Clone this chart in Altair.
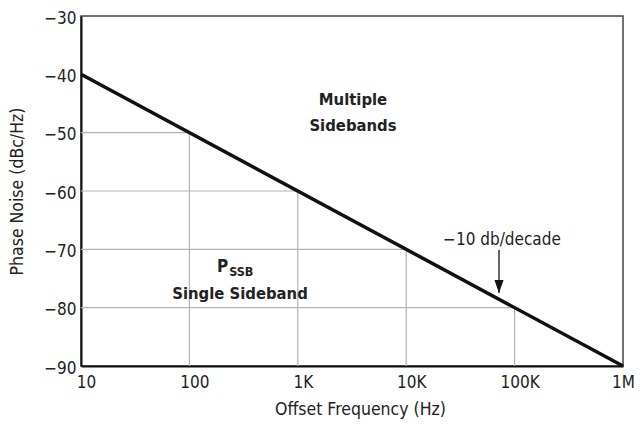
import altair as alt
import pandas as pd

FONT = "Liberation Sans Narrow, DejaVu Sans Condensed, Arial Narrow, sans-serif"

# Main -10 dB/decade line
line_freq = [10, 1000000]
line_noise = [-40, -90]

# Partial grid points on the line
grid_freq = [100, 1000, 10000, 100000]
grid_noise = [-50, -60, -70, -80]

x_ticks = [10, 100, 1000, 10000, 100000, 1000000]
y_ticks = [-90, -80, -70, -60, -50, -40, -30]
x_min, x_max = 10, 1000000
y_min, y_max = -90, -30

# Annotation anchors (data units)
bold_labels = ["Multiple", "Sidebands", "Single Sideband"]
bold_x = [3230, 3230, 293]
bold_y = [-44.4, -48.9, -77.7]

slope_label = ["\u221210 db/decade"]
slope_x = [76500]
slope_y = [-68.4]

arrow_x = [71800]
arrow_top = [-70.1]
arrow_tip = [-77.5]

pssb_x = [228]
pssb_y = [-73.1]
sub_y = [-73.9]

line_df = pd.DataFrame({"f": line_freq, "n": line_noise})
grid_df = pd.DataFrame({"f": grid_freq, "n": grid_noise,
                        "x0": [x_min] * len(grid_freq), "y0": [y_min] * len(grid_freq)})
bold_df = pd.DataFrame({"t": bold_labels, "f": bold_x, "n": bold_y})
slope_df = pd.DataFrame({"t": slope_label, "f": slope_x, "n": slope_y})
arrow_df = pd.DataFrame({"f": arrow_x, "n": arrow_top, "n2": arrow_tip})
p_df = pd.DataFrame({"f": pssb_x, "n": pssb_y, "n2": sub_y})

label_expr = ("datum.value >= 1000000 ? (datum.value/1000000) + 'M' : "
              "datum.value >= 1000 ? (datum.value/1000) + 'K' : datum.value")

xscale = alt.Scale(type="log", domain=[x_min, x_max], nice=False)
yscale = alt.Scale(domain=[y_min, y_max], nice=False, zero=False)

x_enc = alt.X("f:Q", scale=xscale, axis=alt.Axis(
    values=x_ticks, labelExpr=label_expr, title="Offset Frequency (Hz)",
    ticks=False, grid=False, labelPadding=8, labelFlush=False,
    labelOffset={"condition": {"test": "datum.value >= 1000000", "value": 0}, "value": 5},
    titleX=279, titleY=48, titleBaseline="alphabetic"))
y_enc = alt.Y("n:Q", scale=yscale, axis=alt.Axis(
    values=y_ticks, title="Phase Noise (dBc/Hz)", ticks=False, grid=False,
    labelPadding=5, labelOffset=2, titlePadding=17))

hgrid = alt.Chart(grid_df).mark_rule(color="#b3b3b3", strokeWidth=1.2).encode(
    x=alt.X("x0:Q", scale=xscale), x2="f:Q", y=alt.Y("n:Q", scale=yscale))
vgrid = alt.Chart(grid_df).mark_rule(color="#b3b3b3", strokeWidth=1.2).encode(
    x=alt.X("f:Q", scale=xscale), y=alt.Y("y0:Q", scale=yscale), y2="n:Q")

main = alt.Chart(line_df).mark_line(color="#111111", strokeWidth=3.5).encode(
    x=x_enc, y=y_enc)

bold_text = alt.Chart(bold_df).mark_text(
    font=FONT, fontSize=16.5, fontWeight="bold", color="#222222",
    align="center", baseline="middle").encode(
    x=alt.X("f:Q", scale=xscale), y=alt.Y("n:Q", scale=yscale), text="t:N")

slope_text = alt.Chart(slope_df).mark_text(
    font=FONT, fontSize=17, color="#222222", align="center", baseline="middle").encode(
    x=alt.X("f:Q", scale=xscale), y=alt.Y("n:Q", scale=yscale), text="t:N")

p_text = alt.Chart(p_df).mark_text(
    font=FONT, fontSize=17, fontWeight="bold", color="#222222",
    align="right", baseline="middle", text="P").encode(
    x=alt.X("f:Q", scale=xscale), y=alt.Y("n:Q", scale=yscale))
sub_text = alt.Chart(p_df).mark_text(
    font=FONT, fontSize=12.5, fontWeight="bold", color="#222222",
    align="left", baseline="middle", dx=1, text="SSB").encode(
    x=alt.X("f:Q", scale=xscale), y=alt.Y("n2:Q", scale=yscale))

arrow_shaft = alt.Chart(arrow_df).mark_rule(color="#111111", strokeWidth=1.3).encode(
    x=alt.X("f:Q", scale=xscale), y=alt.Y("n:Q", scale=yscale), y2="n2:Q")
arrow_head = alt.Chart(arrow_df).mark_point(
    shape="M-0.7,-2L0.7,-2L0,0Z", filled=True, size=169, color="#111111",
    opacity=1, strokeWidth=0).encode(
    x=alt.X("f:Q", scale=xscale), y=alt.Y("n2:Q", scale=yscale))

chart = alt.layer(hgrid, vgrid, main, bold_text, slope_text, p_text, sub_text,
                  arrow_shaft, arrow_head).properties(
    width=542, height=350,
    background="white",
    autosize=alt.AutoSizeParams(type="none"),
    padding={"left": 73, "top": 8, "right": 11, "bottom": 53},
).configure_view(stroke="#444444", strokeWidth=1.5).configure_axis(
    domainColor="#111111", domainWidth=2,
    labelFont=FONT, labelFontSize=17, labelColor="#222222",
    titleFont=FONT, titleFontSize=17.5, titleFontWeight="normal", titleColor="#222222",
)

chart.save("out.html", embed_options={"renderer": "svg", "actions": False})
